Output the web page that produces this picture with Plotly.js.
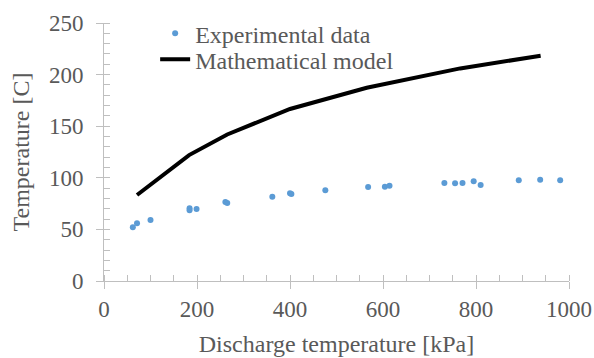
<!DOCTYPE html>
<html>
<head>
<meta charset="utf-8">
<script src="https://cdn.plot.ly/plotly-3.0.1.min.js"></script>
<style>html,body{margin:0;padding:0;background:#fff;}#chart{width:594px;height:358px;}</style>
</head>
<body>
<div id="chart"></div>
<script>
// Experimental data
const expPressure = [62, 71, 100, 184, 184, 199, 261, 265, 362, 400, 403, 476, 568, 604, 614, 732, 755, 771, 795, 810, 892, 938, 981];
const expTemperature = [52.0, 55.9, 59.1, 70.4, 68.5, 69.8, 76.5, 75.6, 81.7, 85.0, 84.3, 87.9, 91.1, 91.4, 92.3, 95.0, 94.7, 95.0, 96.6, 93.0, 97.6, 98.2, 97.6];
// Mathematical model
const modelPressure = [71, 183, 265, 400, 565, 766, 939];
const modelTemperature = [83.3, 122, 142, 166.7, 187.3, 206, 218.3];

const seriesNames = ["Experimental data", "Mathematical model"];
const xTitle = "Discharge temperature [kPa]";
const yTitle = "Temperature [C]";

const font = "Liberation Serif, Times New Roman, serif";
const grey = "#595959";
const axisGrey = "#bfbfbf";

const traces = [
  {x: expPressure, y: expTemperature, mode: "markers", type: "scatter", name: seriesNames[0],
   marker: {color: "#5b9bd5", size: 6}, legend: "legend"},
  {x: modelPressure, y: modelTemperature, mode: "lines", type: "scatter", name: seriesNames[1],
   line: {color: "#000000", width: 4}, legend: "legend2"}
];

const legendStyle = {xanchor: "left", yanchor: "top", yref: "container", bgcolor: "rgba(0,0,0,0)",
  font: {family: font, size: 24, color: grey}, itemwidth: 30};

const layout = {
  width: 594, height: 358,
  margin: {l: 104, r: 25, t: 23, b: 77, autoexpand: false},
  paper_bgcolor: "#ffffff", plot_bgcolor: "#ffffff",
  font: {family: font, color: grey, size: 23},
  showlegend: true,
  legend: Object.assign({x: 0.11, y: 0.969}, legendStyle),
  legend2: Object.assign({x: 0.11, y: 0.896}, legendStyle),
  xaxis: {
    range: [0, 1000], dtick: 200, showgrid: false, zeroline: false,
    showline: true, linecolor: axisGrey, linewidth: 1,
    ticks: "outside", ticklen: 7, tickcolor: axisGrey, tickwidth: 1,
    minor: {ticks: "inside", ticklen: 6, dtick: 50, tickcolor: axisGrey, tickwidth: 1, showgrid: false},
    tickfont: {family: font, size: 23, color: grey},
    title: {text: xTitle, font: {family: font, size: 24, color: grey}, standoff: 14}
  },
  yaxis: {
    range: [0, 250], dtick: 50, showgrid: false, zeroline: false,
    showline: true, linecolor: axisGrey, linewidth: 1,
    ticks: "outside", ticklen: 7, tickcolor: axisGrey, tickwidth: 1,
    minor: {ticks: "inside", ticklen: 6, dtick: 10, tickcolor: axisGrey, tickwidth: 1, showgrid: false},
    tickfont: {family: font, size: 23, color: grey},
    ticklabelstandoff: 8,
    title: {text: yTitle, font: {family: font, size: 24, color: grey}, standoff: 12}
  },
  xaxis2: {overlaying: "x", anchor: "y", range: [0, 1000], dtick: 200, showgrid: false, zeroline: false,
    showline: false, ticks: "inside", ticklen: 7, tickcolor: axisGrey, tickwidth: 1, showticklabels: false},
  yaxis2: {overlaying: "y", anchor: "x", range: [0, 250], dtick: 50, showgrid: false, zeroline: false,
    showline: false, ticks: "inside", ticklen: 7, tickcolor: axisGrey, tickwidth: 1, showticklabels: false}
};

Plotly.newPlot("chart", traces, layout, {displayModeBar: false, staticPlot: true});
</script>
</body>
</html>
